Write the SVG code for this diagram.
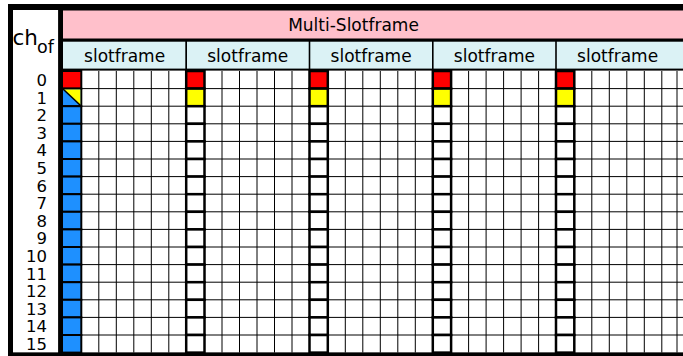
<svg xmlns="http://www.w3.org/2000/svg" width="683" height="356" viewBox="0 0 683 356">
<style>
.t{font-family:"DejaVu Sans",sans-serif;fill:#000}
.sf{font-size:17px;text-anchor:middle}
.num{font-size:16.5px;text-anchor:end}
.g{stroke:#000;stroke-width:1;fill:none}
.c{stroke:#000;stroke-width:2.5}
.c0{stroke:#000;stroke-width:2}
.r{fill:#ff0000}.y{fill:#ffff00}.b{fill:#1e90ff}.w{fill:#fff}
.hd{fill:#dbf2f5}
</style>
<rect x="8" y="4" width="680" height="355" fill="#000"/>
<g id="label-panel">
<rect x="13" y="10" width="45.3" height="342.6" fill="#fff"/>
<text class="t" x="12.5" y="45" font-size="21.5">ch</text>
<text class="t" x="37" y="53" font-size="17.5">of</text>
<g class="t num">
<text x="47" y="86">0</text><text x="47" y="103.6">1</text><text x="47" y="121.2">2</text><text x="47" y="138.8">3</text>
<text x="47" y="156.4">4</text><text x="47" y="174">5</text><text x="47" y="191.6">6</text><text x="47" y="209.2">7</text>
<text x="47" y="226.8">8</text><text x="47" y="244.4">9</text><text x="47" y="262">10</text><text x="47" y="279.6">11</text>
<text x="47" y="297.2">12</text><text x="47" y="314.8">13</text><text x="47" y="332.4">14</text><text x="47" y="350">15</text>
</g>
</g>
<g id="multi-slotframe">
<rect x="63" y="10.5" width="625" height="28" fill="#ffc0cb"/>
<text class="t sf" x="353.5" y="30.7">Multi-Slotframe</text>
</g>
<g id="slotframe-headers">
<rect class="hd" x="63" y="41.7" width="122.3" height="26.9"/>
<rect class="hd" x="187" y="41.7" width="121.7" height="26.9"/>
<rect class="hd" x="310.3" y="41.7" width="121.7" height="26.9"/>
<rect class="hd" x="433.6" y="41.7" width="121.6" height="26.9"/>
<rect class="hd" x="556.8" y="41.7" width="130" height="26.9"/>
<g class="t sf">
<text x="124.6" y="62">slotframe</text>
<text x="247.8" y="62">slotframe</text>
<text x="371.1" y="62">slotframe</text>
<text x="494.4" y="62">slotframe</text>
<text x="617.6" y="62">slotframe</text>
</g>
</g>
<g id="grid">
<rect x="63" y="70.6" width="625" height="282" fill="#fff"/>
<path class="g" d="M63 88.6H683M63 106.2H683M63 123.8H683M63 141.4H683M63 159H683M63 176.6H683M63 194.2H683M63 211.8H683M63 229.4H683M63 247H683M63 264.6H683M63 282.2H683M63 299.8H683M63 317.4H683M63 335H683"/>
<path class="g" d="M98.8 71V352.6M116.3 71V352.6M133.8 71V352.6M151.3 71V352.6M168.8 71V352.6
M222 71V352.6M239.5 71V352.6M257 71V352.6M274.5 71V352.6M292 71V352.6
M345.3 71V352.6M362.8 71V352.6M380.3 71V352.6M397.8 71V352.6M415.3 71V352.6
M468.6 71V352.6M486.1 71V352.6M503.6 71V352.6M521.1 71V352.6M538.6 71V352.6
M591.8 71V352.6M609.3 71V352.6M626.8 71V352.6M644.3 71V352.6M661.8 71V352.6M677 71V352.6"/>
</g>
<g id="slotframe-1-column">
<rect class="c0 r" x="61" y="71" width="20.3" height="17.6"/>
<rect class="c0 b" x="61" y="88.6" width="20.3" height="17.6"/>
<polygon class="y" points="63,89.6 80.3,89.6 80.3,105.2"/>
<line x1="63" y1="89" x2="80.8" y2="105.8" stroke="#000" stroke-width="1.5"/>
<rect class="c0 b" x="61" y="106.2" width="20.3" height="17.6"/>
<rect class="c0 b" x="61" y="123.8" width="20.3" height="17.6"/>
<rect class="c0 b" x="61" y="141.4" width="20.3" height="17.6"/>
<rect class="c0 b" x="61" y="159" width="20.3" height="17.6"/>
<rect class="c0 b" x="61" y="176.6" width="20.3" height="17.6"/>
<rect class="c0 b" x="61" y="194.2" width="20.3" height="17.6"/>
<rect class="c0 b" x="61" y="211.8" width="20.3" height="17.6"/>
<rect class="c0 b" x="61" y="229.4" width="20.3" height="17.6"/>
<rect class="c0 b" x="61" y="247" width="20.3" height="17.6"/>
<rect class="c0 b" x="61" y="264.6" width="20.3" height="17.6"/>
<rect class="c0 b" x="61" y="282.2" width="20.3" height="17.6"/>
<rect class="c0 b" x="61" y="299.8" width="20.3" height="17.6"/>
<rect class="c0 b" x="61" y="317.4" width="20.3" height="17.6"/>
<rect class="c0 b" x="61" y="335" width="20.3" height="17.6"/>
</g>
<defs>
<g id="col">
<rect class="c r" x="0" y="71" width="18.3" height="17.6"/>
<rect class="c y" x="0" y="88.6" width="18.3" height="17.6"/>
<rect class="c w" x="0" y="106.2" width="18.3" height="17.6"/>
<rect class="c w" x="0" y="123.8" width="18.3" height="17.6"/>
<rect class="c w" x="0" y="141.4" width="18.3" height="17.6"/>
<rect class="c w" x="0" y="159" width="18.3" height="17.6"/>
<rect class="c w" x="0" y="176.6" width="18.3" height="17.6"/>
<rect class="c w" x="0" y="194.2" width="18.3" height="17.6"/>
<rect class="c w" x="0" y="211.8" width="18.3" height="17.6"/>
<rect class="c w" x="0" y="229.4" width="18.3" height="17.6"/>
<rect class="c w" x="0" y="247" width="18.3" height="17.6"/>
<rect class="c w" x="0" y="264.6" width="18.3" height="17.6"/>
<rect class="c w" x="0" y="282.2" width="18.3" height="17.6"/>
<rect class="c w" x="0" y="299.8" width="18.3" height="17.6"/>
<rect class="c w" x="0" y="317.4" width="18.3" height="17.6"/>
<rect class="c w" x="0" y="335" width="18.3" height="17.6"/>
</g>
</defs>
<g id="slotframe-2-column"><use href="#col" x="186.2"/></g>
<g id="slotframe-3-column"><use href="#col" x="309.5"/></g>
<g id="slotframe-4-column"><use href="#col" x="432.8"/></g>
<g id="slotframe-5-column"><use href="#col" x="556"/></g>
<g id="frame">
<rect x="58.3" y="4" width="4.7" height="352" fill="#000"/>
<rect x="8" y="352.6" width="680" height="4" fill="#000"/>
</g>
</svg>
